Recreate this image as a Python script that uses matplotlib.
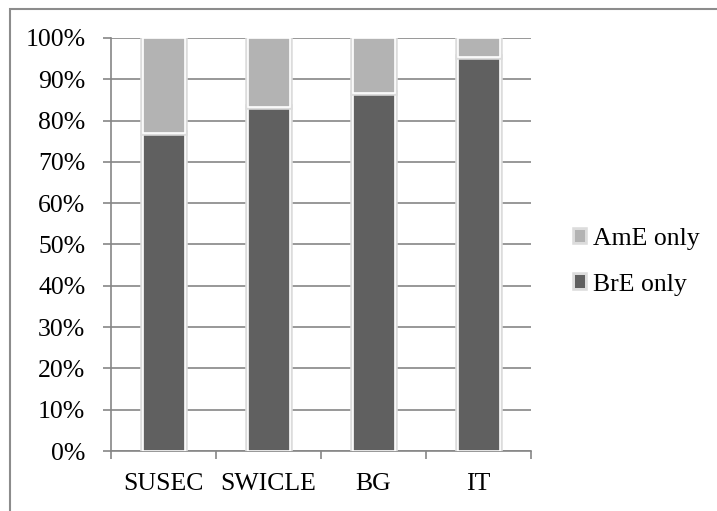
import matplotlib
matplotlib.use("Agg")
import matplotlib.pyplot as plt
import matplotlib.patheffects as pe
from matplotlib.patches import Rectangle
from matplotlib.ticker import FuncFormatter, FixedLocator

corpora = ["SUSEC", "SWICLE", "BG", "IT"]
bre_only = [76.9, 83.2, 86.6, 95.4]
ame_only = [100 - v for v in bre_only]

plt.rcParams['font.family'] = ['Liberation Serif', 'DejaVu Serif']
FS = 18.5

fig = plt.figure(figsize=(7.17, 5.11), dpi=100)
ax = fig.add_axes([111 / 717, 1 - 451 / 511, 420 / 717, 413 / 511])

# outer chart frame (only top and left edges fall inside the image)
fig.patches.append(Rectangle((10 / 717, -0.1), 1.2, 1.1 - 9 / 511,
                             transform=fig.transFigure, fill=False,
                             edgecolor='#8c8c8c', linewidth=1.5))

glow = [pe.Stroke(linewidth=4, foreground='#dcdcdc'), pe.Normal()]
x = range(len(corpora))
b1 = ax.bar(x, bre_only, width=0.4, color='#606060', edgecolor='white',
            linewidth=1.2, label='BrE only', zorder=3)
b2 = ax.bar(x, ame_only, width=0.4, bottom=bre_only, color='#b3b3b3',
            edgecolor='white', linewidth=1.2, label='AmE only', zorder=3)
for r in list(b1) + list(b2):
    r.set_path_effects(glow)

ax.set_xlim(-0.5, 3.5)
ax.set_ylim(0, 100)
ax.set_yticks(range(0, 101, 10))
ax.yaxis.set_major_formatter(FuncFormatter(lambda v, p: f"{int(v)}%"))
ax.yaxis.grid(True, color='#868686', linewidth=1.2, zorder=0)
ax.set_axisbelow(True)

ax.set_xticks(list(x))
ax.set_xticklabels(corpora)
ax.xaxis.set_minor_locator(FixedLocator([-0.5, 0.5, 1.5, 2.5, 3.5]))
ax.tick_params(axis='x', which='major', length=0, pad=16, labelsize=FS)
ax.tick_params(axis='x', which='minor', length=6, color='#868686', width=1.2)
ax.tick_params(axis='y', length=6, color='#868686', width=1.2,
               labelsize=FS, pad=12.5)

for side in ['top', 'right']:
    ax.spines[side].set_visible(False)
for side in ['left', 'bottom']:
    ax.spines[side].set_color('#868686')
    ax.spines[side].set_linewidth(1.2)

handles, labels = ax.get_legend_handles_labels()
leg = fig.legend(handles[::-1], labels[::-1], loc='center left',
                 bbox_to_anchor=(575 / 717, 1 - 262 / 511), frameon=False,
                 fontsize=FS, borderpad=0, borderaxespad=0,
                 handlelength=0.39, handleheight=0.39, handletextpad=0.31,
                 labelspacing=0.92)
for h in leg.legend_handles:
    h.set_edgecolor('none')

fig.savefig("out.png", dpi=100)
